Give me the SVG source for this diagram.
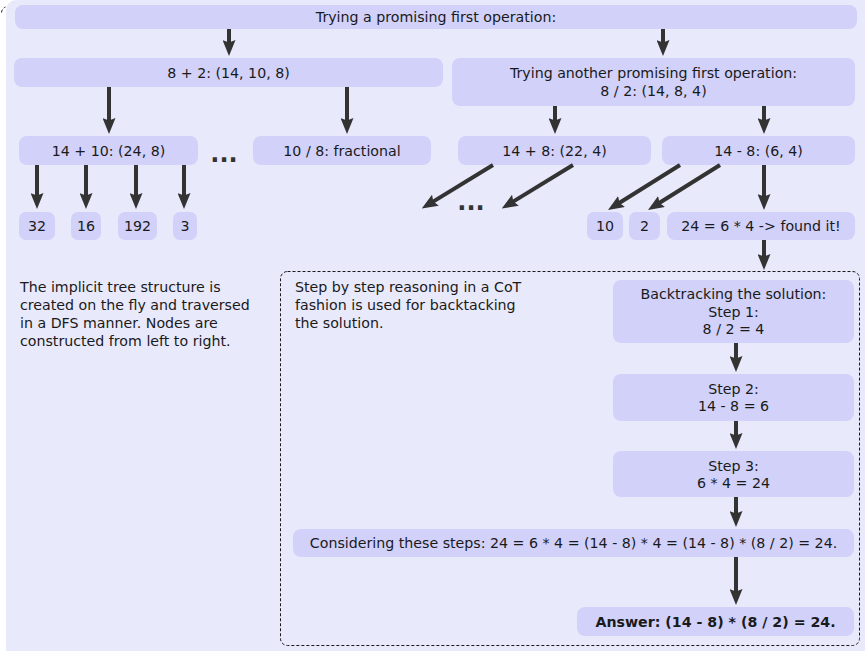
<svg xmlns="http://www.w3.org/2000/svg" width="865" height="651" viewBox="0 0 865 651">
<style>
.node{fill:#d1d1fa;}
.t{font-family:"DejaVu Sans","Liberation Sans",sans-serif;font-size:14.2px;fill:#1a1a1a;}
.c{text-anchor:middle;}
.b{font-weight:bold;}
.dots{font-family:"DejaVu Sans","Liberation Sans",sans-serif;font-size:24px;font-weight:bold;fill:#333;text-anchor:middle;}
.arr{stroke:#333;stroke-width:4;fill:none;marker-end:url(#ah);}
</style>
<defs>
<marker id="ah" markerUnits="userSpaceOnUse" viewBox="0 0 16 13" refX="8" refY="6.5" markerWidth="16" markerHeight="13" orient="auto">
<path d="M0,0 L16,6.5 L0,13 L2.5,6.5 Z" fill="#333"/>
</marker>
</defs>
<rect x="0" y="0" width="865" height="651" fill="#ffffff"/>
<rect x="6" y="0" width="880" height="670" rx="10" fill="#e9e9fc"/>
<path d="M1.5,12.5 Q2,8.5 5.5,7" fill="none" stroke="#222" stroke-width="1" stroke-dasharray="3 2"/>

<g id="n_top"><rect class="node" x="15" y="5" width="842" height="24" rx="8"/><text class="t c" x="436" y="22">Trying a promising first operation:</text></g>
<g id="n_82"><rect class="node" x="14" y="58" width="429" height="29" rx="8"/><text class="t c" x="228.5" y="77.5">8 + 2: (14, 10, 8)</text></g>
<g id="n_82b"><rect class="node" x="452" y="58" width="403" height="48" rx="8"/><text class="t c" x="653.5" y="78">Trying another promising first operation:</text><text class="t c" x="653.5" y="96">8 / 2: (14, 8, 4)</text></g>
<g id="n_1410"><rect class="node" x="19" y="136" width="179" height="29" rx="8"/><text class="t c" x="108.5" y="155.5">14 + 10: (24, 8)</text></g>
<g id="n_108"><rect class="node" x="253" y="136" width="178" height="29" rx="8"/><text class="t c" x="342" y="155.5">10 / 8: fractional</text></g>
<g id="n_148"><rect class="node" x="458" y="136" width="193" height="29" rx="8"/><text class="t c" x="554.5" y="155.5">14 + 8: (22, 4)</text></g>
<g id="n_14m8"><rect class="node" x="662" y="136" width="193" height="29" rx="8"/><text class="t c" x="758.5" y="155.5">14 - 8: (6, 4)</text></g>
<g id="n_32"><rect class="node" x="19" y="212" width="36" height="28" rx="7"/><text class="t c" x="37" y="231">32</text></g>
<g id="n_16"><rect class="node" x="71" y="212" width="30" height="28" rx="7"/><text class="t c" x="86" y="231">16</text></g>
<g id="n_192"><rect class="node" x="118" y="212" width="39" height="28" rx="7"/><text class="t c" x="137.5" y="231">192</text></g>
<g id="n_3"><rect class="node" x="173" y="212" width="24" height="28" rx="7"/><text class="t c" x="185" y="231">3</text></g>
<g id="n_10"><rect class="node" x="587" y="212" width="36" height="28" rx="7"/><text class="t c" x="605" y="231">10</text></g>
<g id="n_2"><rect class="node" x="629" y="212" width="31" height="28" rx="7"/><text class="t c" x="644.5" y="231">2</text></g>
<g id="n_found"><rect class="node" x="667" y="212" width="188" height="28" rx="8"/><text class="t c" x="761" y="231">24 = 6 * 4 -&gt; found it!</text></g>
<g id="dots1"><text class="dots" x="224" y="162">...</text></g>
<g id="dots2"><text class="dots" x="471" y="210">...</text></g>

<g id="note_left"><text class="t" x="20" y="292">The implicit tree structure is</text><text class="t" x="20" y="310">created on the fly and traversed</text><text class="t" x="20" y="328">in a DFS manner. Nodes are</text><text class="t" x="20" y="346">constructed from left to right.</text></g>

<g id="cot_box"><rect x="280.5" y="271.5" width="579" height="374" rx="7" fill="none" stroke="#1a1a1a" stroke-width="1" stroke-dasharray="3 2"/>
<text class="t" x="295" y="292">Step by step reasoning in a CoT</text><text class="t" x="295" y="310">fashion is used for backtacking</text><text class="t" x="295" y="328">the solution.</text></g>
<g id="n_back"><rect class="node" x="613" y="280" width="241" height="63" rx="8"/><text class="t c" x="733.5" y="299">Backtracking the solution:</text><text class="t c" x="733.5" y="316.5">Step 1:</text><text class="t c" x="733.5" y="334">8 / 2 = 4</text></g>
<g id="n_step2"><rect class="node" x="613" y="374" width="241" height="47" rx="8"/><text class="t c" x="733.5" y="393.5">Step 2:</text><text class="t c" x="733.5" y="411">14 - 8 = 6</text></g>
<g id="n_step3"><rect class="node" x="613" y="451" width="241" height="46" rx="8"/><text class="t c" x="733.5" y="470.5">Step 3:</text><text class="t c" x="733.5" y="488">6 * 4 = 24</text></g>
<g id="n_consider"><rect class="node" x="293" y="529" width="561" height="28" rx="8"/><text class="t c" x="573.5" y="548">Considering these steps: 24 = 6 * 4 = (14 - 8) * 4 = (14 - 8) * (8 / 2) = 24.</text></g>
<g id="n_answer"><rect class="node" x="577" y="607" width="277" height="29" rx="8"/><text class="t c b" x="715.5" y="626.5">Answer: (14 - 8) * (8 / 2) = 24.</text></g>

<g id="connectors">
<path class="arr" d="M229,29 V48"/>
<path class="arr" d="M663,29 V48"/>
<path class="arr" d="M109,87 V126"/>
<path class="arr" d="M347,87 V126"/>
<path class="arr" d="M555,106 V126"/>
<path class="arr" d="M764,106 V126"/>
<path class="arr" d="M37,165 V201"/>
<path class="arr" d="M86,165 V201"/>
<path class="arr" d="M136,165 V201"/>
<path class="arr" d="M184,165 V201"/>
<path class="arr" d="M764,165 V202"/>
<path class="arr" d="M764,240 V262"/>
<path class="arr" d="M736,343 V364"/>
<path class="arr" d="M736,421 V441"/>
<path class="arr" d="M736,497 V519"/>
<path class="arr" d="M736,557 V597"/>
<path class="arr" d="M493,165 L428.6,204.4"/>
<path class="arr" d="M573,165 L508.6,204.4"/>
<path class="arr" d="M680,165 L614.8,205.8"/>
<path class="arr" d="M720,165 L654.8,205.8"/>
</g>
</svg>
